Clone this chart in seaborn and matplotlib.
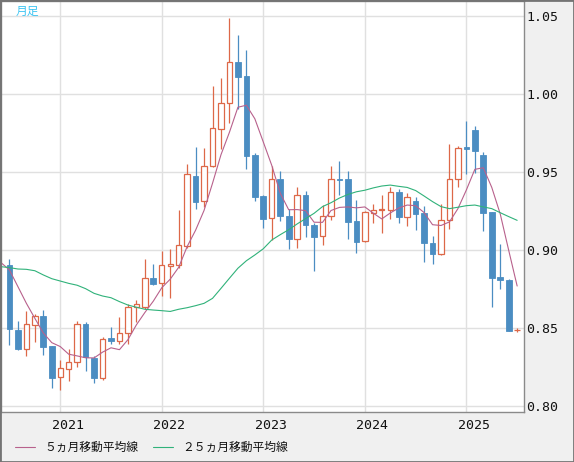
import numpy as np
import pandas as pd
import matplotlib
matplotlib.use("Agg")
import matplotlib.pyplot as plt
from matplotlib.patches import Rectangle
import seaborn as sns

# monthly candles, Jul 2020 .. Jul 2025
months = pd.period_range("2020-07", "2025-07", freq="M").astype(str).tolist()
opens = [0.8906, 0.8489, 0.8369, 0.8523, 0.8579, 0.8385,
         0.8186, 0.8237, 0.8282, 0.8528, 0.8310, 0.8179, 0.8438, 0.8421, 0.8468, 0.8635, 0.8638, 0.8825,
         0.8788, 0.8901, 0.8908, 0.9029, 0.9476, 0.9316, 0.9538, 0.9778, 0.9942, 1.0205, 1.0115, 0.9609,
         0.9349, 0.9206, 0.9455, 0.9218, 0.9071, 0.9353, 0.9160, 0.9090, 0.9218, 0.9457, 0.9455, 0.9187,
         0.9058, 0.9241, 0.9256, 0.9261, 0.9372, 0.9214, 0.9316, 0.9237, 0.9045, 0.8976, 0.9192, 0.9455,
         0.9660, 0.9771, 0.9611, 0.9244, 0.8827, 0.8808, 0.8488]
highs = [0.8944, 0.8547, 0.8611, 0.8590, 0.8617, 0.8387,
         0.8297, 0.8367, 0.8547, 0.8540, 0.8322, 0.8442, 0.8506, 0.8574, 0.8656, 0.8681, 0.8944, 0.8912,
         0.8996, 0.9006, 0.9256, 0.9553, 0.9664, 0.9656, 1.0053, 1.0103, 1.0489, 1.0380, 1.0282, 0.9622,
         0.9352, 0.9540, 0.9508, 0.9263, 0.9406, 0.9380, 0.9175, 0.9290, 0.9540, 0.9572, 0.9508, 0.9320,
         0.9250, 0.9295, 0.9355, 0.9404, 0.9393, 0.9365, 0.9340, 0.9284, 0.9092, 0.9295, 0.9682, 0.9667,
         0.9829, 0.9797, 0.9632, 0.9246, 0.9041, 0.8814, 0.8504]
lows = [0.8393, 0.8361, 0.8322, 0.8414, 0.8331, 0.8119,
        0.8106, 0.8164, 0.8254, 0.8228, 0.8151, 0.8167, 0.8399, 0.8399, 0.8397, 0.8542, 0.8622, 0.8778,
        0.8709, 0.8696, 0.8885, 0.9015, 0.9265, 0.9280, 0.9536, 0.9647, 0.9818, 0.9908, 0.9522, 0.9316,
        0.9146, 0.9066, 0.9186, 0.9010, 0.9017, 0.9083, 0.8867, 0.9034, 0.9195, 0.9353, 0.9074, 0.8980,
        0.9052, 0.9177, 0.9109, 0.9203, 0.9177, 0.9158, 0.9130, 0.8925, 0.8915, 0.8970, 0.9139, 0.9408,
        0.9489, 0.9498, 0.9124, 0.8639, 0.8752, 0.8485, 0.8474]
closes = [0.8494, 0.8369, 0.8526, 0.8581, 0.8382, 0.8183,
          0.8244, 0.8282, 0.8526, 0.8318, 0.8179, 0.8429, 0.8421, 0.8470, 0.8637, 0.8654, 0.8821, 0.8786,
          0.8904, 0.8912, 0.9032, 0.9487, 0.9312, 0.9538, 0.9782, 0.9946, 1.0205, 1.0113, 0.9606, 0.9344,
          0.9203, 0.9455, 0.9222, 0.9074, 0.9353, 0.9165, 0.9085, 0.9218, 0.9455, 0.9451, 0.9183, 0.9054,
          0.9246, 0.9256, 0.9265, 0.9372, 0.9216, 0.9340, 0.9235, 0.9049, 0.8979, 0.9192, 0.9455, 0.9658,
          0.9650, 0.9639, 0.9241, 0.8825, 0.8812, 0.8485, 0.8490]

# moving averages, Jun 2020 .. Jul 2025
ma5 = [0.8921, 0.8874, 0.8767, 0.8660, 0.8564, 0.8470, 0.8408,
       0.8383, 0.8334, 0.8323, 0.8311, 0.8310, 0.8347, 0.8375, 0.8363, 0.8427, 0.8522, 0.8601, 0.8674,
       0.8760, 0.8815, 0.8891, 0.9024, 0.9129, 0.9256, 0.9430, 0.9613, 0.9757, 0.9917, 0.9930, 0.9843,
       0.9694, 0.9544, 0.9366, 0.9260, 0.9261, 0.9254, 0.9180, 0.9179, 0.9255, 0.9275, 0.9278, 0.9272,
       0.9278, 0.9238, 0.9201, 0.9239, 0.9271, 0.9290, 0.9286, 0.9242, 0.9164, 0.9159, 0.9182, 0.9267,
       0.9387, 0.9519, 0.9529, 0.9403, 0.9233, 0.9000, 0.8771]
ma25 = [0.8895, 0.8889, 0.8880, 0.8878, 0.8869, 0.8842, 0.8818,
        0.8803, 0.8788, 0.8776, 0.8754, 0.8724, 0.8707, 0.8696, 0.8671, 0.8649, 0.8635, 0.8622, 0.8617,
        0.8613, 0.8608, 0.8622, 0.8632, 0.8645, 0.8660, 0.8692, 0.8756, 0.8821, 0.8885, 0.8933, 0.8970,
        0.9010, 0.9066, 0.9100, 0.9132, 0.9169, 0.9203, 0.9237, 0.9280, 0.9305, 0.9335, 0.9358, 0.9375,
        0.9385, 0.9400, 0.9412, 0.9418, 0.9410, 0.9403, 0.9383, 0.9348, 0.9312, 0.9280, 0.9267, 0.9276,
        0.9286, 0.9290, 0.9278, 0.9267, 0.9241, 0.9216, 0.9192]

year_labels = ["2021", "2022", "2023", "2024", "2025"]
yticks = [0.80, 0.85, 0.90, 0.95, 1.00, 1.05]

up_col = "#dd6848"
down_col = "#4b8dc2"
ma5_col = "#b8618c"
ma25_col = "#30b27a"

sns.set_style("white")
plt.rcParams["font.family"] = ["DejaVu Sans Mono", "Noto Sans CJK JP"]

df = pd.DataFrame({"month": months, "o": opens, "h": highs, "l": lows, "c": closes})
df["x"] = np.arange(len(df))
df["up"] = df["c"] >= df["o"]
df["bot"] = df[["o", "c"]].min(axis=1)
df["hgt"] = (df["c"] - df["o"]).abs()

ma = pd.DataFrame({"x": np.arange(-1, len(df)), "ma5": ma5, "ma25": ma25})

W, H = 574, 462
fig = plt.figure(figsize=(W / 100, H / 100), dpi=100, facecolor="#f0f0f0")
ax = fig.add_axes([1 / W, (H - 412.3) / H, 522.5 / W, 411.3 / H])
ax.set_facecolor("white")

# wicks
for up, col in [(True, up_col), (False, down_col)]:
    d = df[df["up"] == up]
    ax.vlines(d["x"], d["l"], d["h"], color=col, linewidth=0.9, zorder=2)

# bodies
u = df[df["up"]]
ax.bar(u["x"], u["hgt"], bottom=u["bot"], width=0.64, facecolor="white",
       edgecolor=up_col, linewidth=0.9, zorder=3)
d = df[~df["up"]]
ax.bar(d["x"], d["hgt"], bottom=d["bot"], width=0.68, facecolor=down_col,
       edgecolor=down_col, linewidth=0.6, zorder=3)

sns.lineplot(data=ma, x="x", y="ma5", ax=ax, color=ma5_col, linewidth=0.8,
             label="５ヵ月移動平均線", zorder=4)
sns.lineplot(data=ma, x="x", y="ma25", ax=ax, color=ma25_col, linewidth=0.8,
             label="２５ヵ月移動平均線", zorder=4)

ax.set_xlim(-1.0, 60.75)
ax.set_ylim(0.79615, 1.0598)
ax.set_xlabel("")
ax.set_ylabel("")

jan_idx = [months.index(y + "-01") for y in year_labels]
ax.set_xticks(jan_idx)
ax.set_xticklabels([])
ax.set_yticks(yticks)
ax.set_yticklabels([f"{v:.2f}" for v in yticks])
ax.yaxis.tick_right()
ax.tick_params(axis="both", length=0)
ax.tick_params(axis="y", pad=2, labelsize=9.5, labelcolor="#111111")
ax.grid(True, color="#e0e0e0", linewidth=1)
ax.set_axisbelow(True)
for s in ax.spines.values():
    s.set_color("#8a8a8a")
    s.set_linewidth(1)
    s.set_visible(True)

for i, lab in zip(jan_idx, year_labels):
    ax.text(i + 0.87, -0.031, lab, transform=ax.get_xaxis_transform(),
            ha="center", va="center", fontsize=9.5, color="#111111",
            family="DejaVu Sans Mono")

fig.text(16 / W, 1 - 11 / H, "月足", color="#3cc4f2", fontsize=8.5,
         family=["Noto Sans CJK JP", "DejaVu Sans"], va="center", ha="left")

leg = ax.legend(loc="center left", bbox_to_anchor=(15 / W, 1 - 447.5 / H),
                bbox_transform=fig.transFigure, ncol=2, frameon=False,
                borderpad=0, borderaxespad=0, handlelength=1.7, handletextpad=0.75,
                columnspacing=1.3,
                prop={"family": ["Noto Sans CJK JP", "DejaVu Sans"], "size": 8.5})
for t in leg.get_texts():
    t.set_color("#111111")

fig.add_artist(Rectangle((0, 0), 1, 1, transform=fig.transFigure, fill=False,
                         edgecolor="#747474", linewidth=2))

fig.savefig("out.png", dpi=100, facecolor=fig.get_facecolor())
